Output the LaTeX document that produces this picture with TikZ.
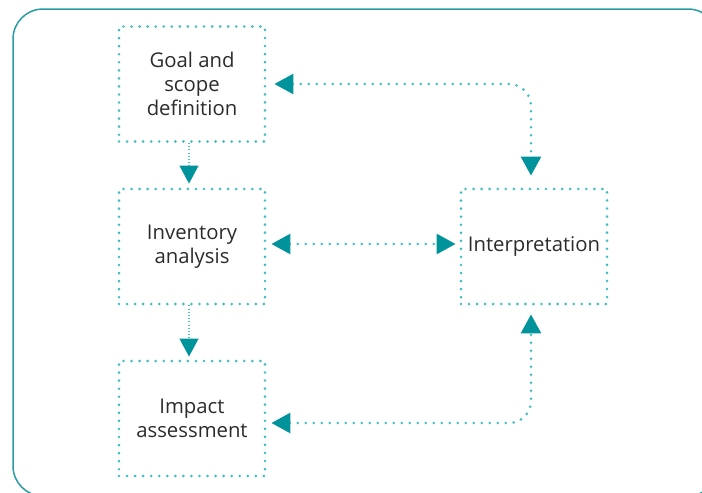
\documentclass[tikz,border=0pt]{standalone}
\usepackage{fontspec}
\setmainfont{Open Sans}
\usetikzlibrary{arrows.meta}
\definecolor{framec}{HTML}{2A9DA3}
\definecolor{dotc}{HTML}{3DBDBD}
\definecolor{tipc}{HTML}{00939B}
\definecolor{txt}{HTML}{2B2B2B}
\begin{document}
\begin{tikzpicture}[x=1pt,y=-1pt,
  framestyle/.style={draw=framec, line width=1.5pt, rounded corners=30pt},
  box/.style={draw=dotc, line width=2.9pt, dash pattern=on 0pt off 8.05pt, line cap=round,
    minimum width=146pt, minimum height=115pt, inner sep=0pt, align=center,
    font=\fontsize{20.3}{24}\selectfont, text=txt},
  conn/.style={draw=dotc, line width=2.9pt, dash pattern=on 0pt off 8pt, line cap=round,
    rounded corners=22pt, {Triangle[width=20pt,length=19pt,color=tipc]}-{Triangle[width=20pt,length=19pt,color=tipc]}},
  flow/.style={draw=dotc!90, line width=1.2pt, dash pattern=on 1pt off 2.2pt,
    -{Triangle[width=19pt,length=18pt,color=tipc]}}
]
\useasboundingbox (0,0) rectangle (702,493);
\draw[framestyle] (13,9) rectangle (718,496);

\node[box] (goal) at (192,84) {Goal and\\scope\\definition};
\node[box] (inv) at (192,246.5) {Inventory\\analysis};
\node[box] (imp) at (192,418.5) {Impact\\assessment};
\node[box] (interp) at (534,246.5) {Interpretation};

\draw[flow, shorten >=4pt] ([xshift=-3pt]goal.south) -- ([xshift=-3pt]inv.north);
\draw[flow, shorten >=3pt] ([xshift=-3pt]inv.south) -- ([xshift=-3pt]imp.north);

\draw[conn, shorten <=8pt, shorten >=12pt] (goal.east) -| ([xshift=-3pt]interp.north);
\draw[conn, shorten <=5pt, shorten >=4pt] ([yshift=2.5pt]inv.east) -- ([yshift=2.5pt]interp.west);
\draw[conn, shorten <=5pt, shorten >=9pt] ([yshift=-4.5pt]imp.east) -| ([xshift=-3pt]interp.south);
\end{tikzpicture}
\end{document}
